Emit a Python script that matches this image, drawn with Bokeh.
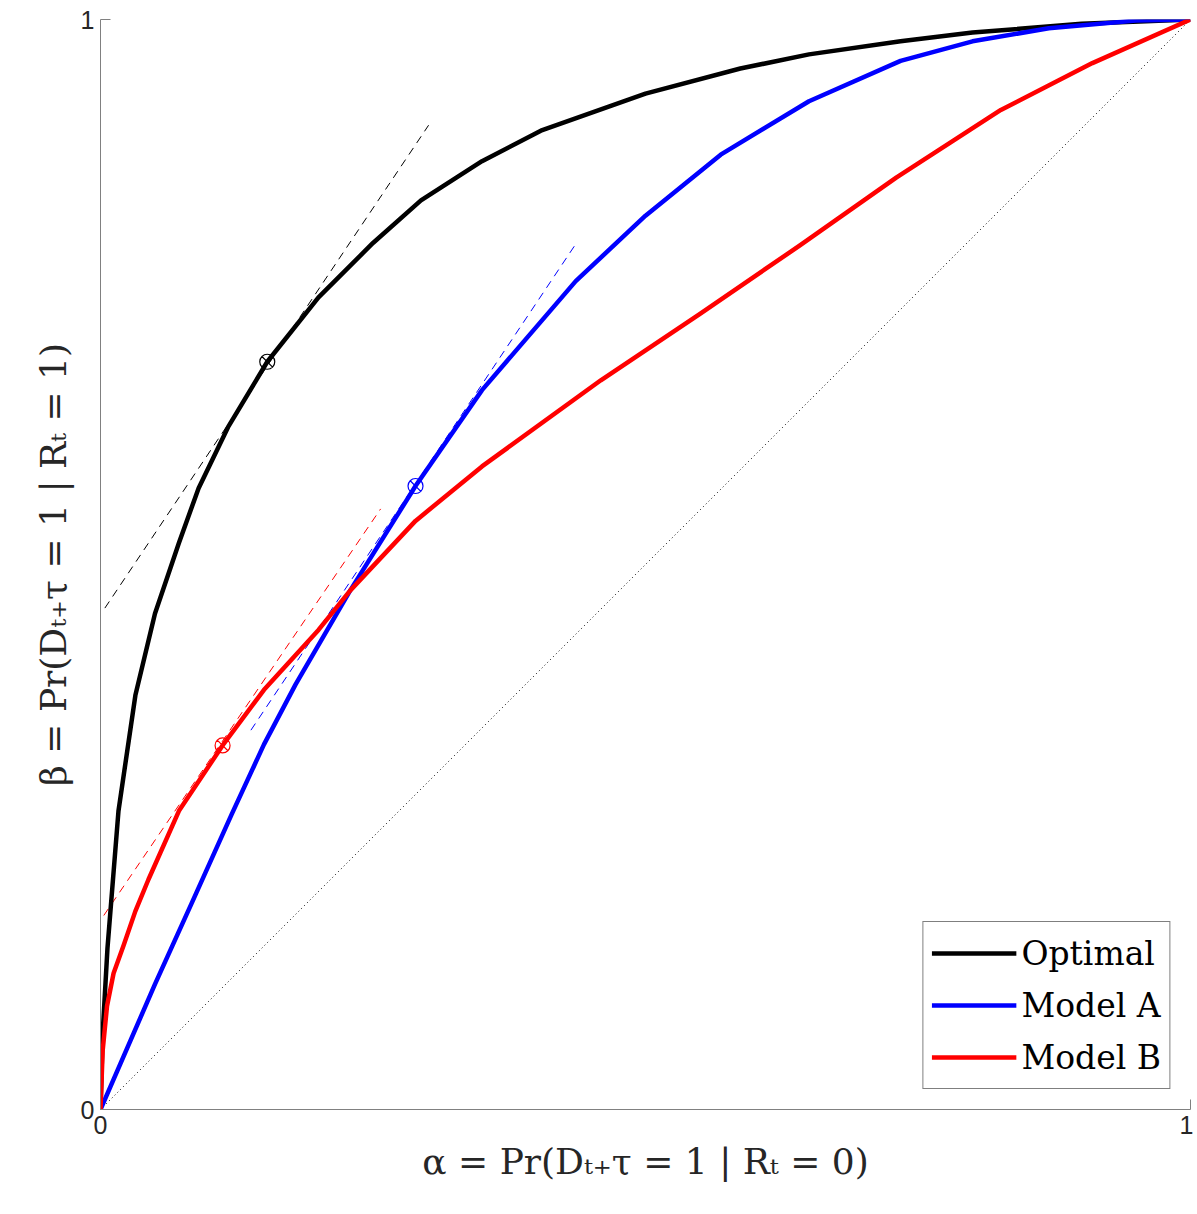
from bokeh.plotting import figure
from bokeh.models import Range1d, FixedTicker, Legend, LegendItem
from bokeh.embed import file_html
from bokeh.resources import INLINE

# ROC curves
opt_x = [0, 0.002, 0.0064, 0.0165, 0.032, 0.05, 0.072, 0.09, 0.117, 0.153, 0.2, 0.25, 0.294, 0.35, 0.404,
         0.5, 0.587, 0.65, 0.734, 0.8, 0.9, 1.0]
opt_y = [0, 0.07, 0.148, 0.274, 0.38, 0.455, 0.52, 0.57, 0.626, 0.686, 0.745, 0.795, 0.834, 0.87, 0.898,
         0.932, 0.955, 0.968, 0.98, 0.988, 0.996, 1.0]

a_x = [0, 0.05, 0.084, 0.12, 0.15, 0.179, 0.229, 0.289, 0.35, 0.436, 0.5, 0.569, 0.65, 0.734, 0.8, 0.87, 0.95, 1.0]
a_y = [0, 0.115, 0.19, 0.27, 0.335, 0.39, 0.476, 0.572, 0.66, 0.76, 0.82, 0.876, 0.925, 0.962, 0.98, 0.992, 0.999, 1.0]

b_x = [0, 0.002, 0.006, 0.012, 0.021, 0.032, 0.044, 0.072, 0.112, 0.15, 0.2, 0.229, 0.289, 0.35, 0.459, 0.55,
       0.642, 0.73, 0.826, 0.91, 1.0]
b_y = [0, 0.054, 0.095, 0.125, 0.15, 0.182, 0.211, 0.274, 0.334, 0.385, 0.44, 0.476, 0.54, 0.59, 0.669, 0.73,
       0.793, 0.855, 0.917, 0.96, 1.0]

# tangent segments and operating points
tan_opt = ([0.004, 0.301], [0.46, 0.903])
tan_a = ([0.138, 0.436], [0.348, 0.794])
tan_b = ([0.003, 0.257], [0.178, 0.551])
pt_x = [0.153, 0.289, 0.112]
pt_y = [0.686, 0.572, 0.334]
pt_c = ["black", "blue", "red"]

p = figure(width=1193, height=1204, output_backend="svg", toolbar_location=None,
           x_range=Range1d(0, 1), y_range=Range1d(0, 1),
           min_border_left=100, min_border_top=19, min_border_right=3, min_border_bottom=95)
p.frame_width = 1090
p.frame_height = 1090
p.grid.visible = False
p.outline_line_color = None
p.background_fill_color = "white"

for ax in (p.xaxis, p.yaxis):
    ax.ticker = FixedTicker(ticks=[0, 1])
    ax.major_tick_in = 10
    ax.major_tick_out = 0
    ax.minor_tick_line_color = None
    ax.axis_line_color = "#808080"
    ax.major_tick_line_color = "#808080"
    ax.major_label_text_font = "Liberation Sans"
    ax.major_label_text_font_size = "25px"
    ax.major_label_text_color = "#262626"
    ax.major_label_standoff = 6
    ax.axis_label_text_font = "DejaVu Serif"
    ax.axis_label_text_font_size = "36px"
    ax.axis_label_text_font_style = "normal"
    ax.axis_label_text_color = "#262626"
    ax.axis_label_standoff = 4
p.xaxis.axis_label = "α = Pr(Dₜ₊τ = 1 | Rₜ = 0)"
p.yaxis.axis_label = "β = Pr(Dₜ₊τ = 1 | Rₜ = 1)"

p.line([0, 1], [0, 1], line_color="black", line_width=1, line_dash="1 3")
p.line(*tan_opt, line_color="black", line_width=1, line_dash="8 6")
p.line(*tan_a, line_color="blue", line_width=1, line_dash="8 6")
p.line(*tan_b, line_color="red", line_width=1, line_dash="8 6")

r_opt = p.line(opt_x, opt_y, line_color="black", line_width=4.5, line_join="round")
r_a = p.line(a_x, a_y, line_color="blue", line_width=4.5, line_join="round")
r_b = p.line(b_x, b_y, line_color="red", line_width=4.5, line_join="round")

p.scatter(pt_x, pt_y, marker="circle_x", size=15, fill_color=None, line_color=pt_c, line_width=1.2)

legend = Legend(items=[LegendItem(label="Optimal", renderers=[r_opt]),
                       LegendItem(label="Model A", renderers=[r_a]),
                       LegendItem(label="Model B", renderers=[r_b])],
                location="bottom_right")
legend.label_text_font = "DejaVu Serif"
legend.label_text_font_size = "33px"
legend.label_text_color = "black"
legend.glyph_width = 85
legend.label_height = 46
legend.glyph_height = 46
legend.spacing = 6
legend.padding = 8
legend.margin = 20
legend.border_line_color = "black"
legend.border_line_width = 1
p.add_layout(legend)

open("out.html", "w").write(file_html(p, INLINE))
